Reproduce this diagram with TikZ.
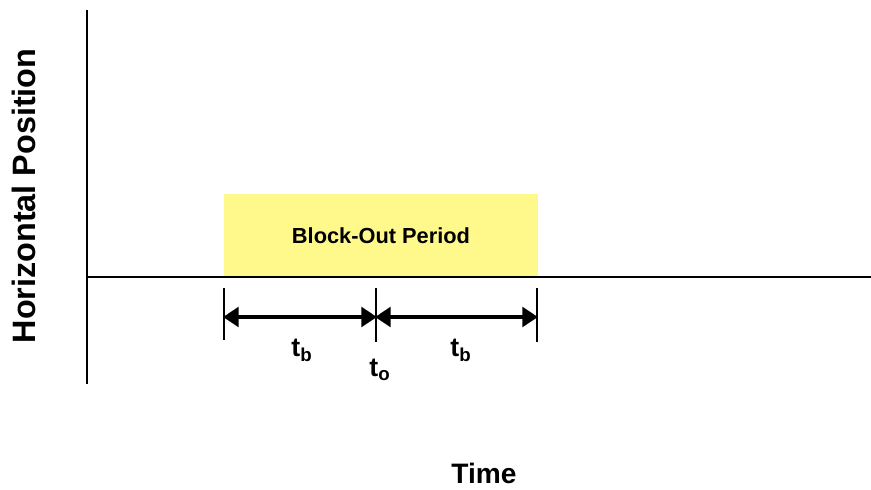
\documentclass[tikz,border=0pt]{standalone}
\usepackage{fontspec}
\setmainfont{Liberation Sans}
\usetikzlibrary{arrows.meta}
\tikzset{
  axisline/.style={line width=1.9pt},
  tickline/.style={line width=1.3pt},
  dimarrow/.style={line width=2.4pt, {Triangle[length=11pt,width=14pt]}-{Triangle[length=11pt,width=14pt]}, shorten <=-0.6pt, shorten >=-0.6pt},
  lbl/.style={font=\fontsize{19}{21}\selectfont\bfseries, inner sep=0pt}
}
\begin{document}
\begin{tikzpicture}[x=0.025cm, y=-0.025cm]
    \useasboundingbox (0,0) rectangle (871,489);

    % Block-out region
    \fill[yellow!45] (224,194) rectangle (538,277);
    \node[lbl, font=\fontsize{15.5}{17}\selectfont\bfseries] (period) at (381,236) {Block-Out Period};

    % Axes
    \coordinate (ytop) at (87,10);
    \coordinate (ybot) at (87,384);
    \coordinate (xleft) at (87,277);
    \coordinate (xright) at (871,277);
    \draw[axisline] (ytop) -- (ybot);
    \draw[axisline] (xleft) -- (xright);

    % Ticks at start, t_o and end
    \coordinate (s1) at (224,288);  \coordinate (s2) at (224,340);
    \coordinate (o1) at (376,288);  \coordinate (o2) at (376,342);
    \coordinate (e1) at (537,288);  \coordinate (e2) at (537,342);
    \draw[tickline] (s1) -- (s2);
    \draw[tickline] (o1) -- (o2);
    \draw[tickline] (e1) -- (e2);

    % Block-out intervals
    \coordinate (sa) at (224,317);
    \coordinate (oa) at (376,317);
    \coordinate (ea) at (537,317);
    \draw[dimarrow] (sa) -- (oa);
    \draw[dimarrow] (oa) -- (ea);

    % Labels
    \node[lbl] (tb1) at (302,350) {t\textsubscript{b}};
    \node[lbl] (to) at (380,370) {t\textsubscript{o}};
    \node[lbl] (tb2) at (461,350) {t\textsubscript{b}};
    \node[lbl, font=\fontsize{23}{25}\selectfont\bfseries, rotate=90] (ylab) at (24,196) {Horizontal Position};
    \node[lbl, font=\fontsize{20}{22}\selectfont\bfseries] (xlab) at (484,473) {Time};
\end{tikzpicture}
\end{document}
